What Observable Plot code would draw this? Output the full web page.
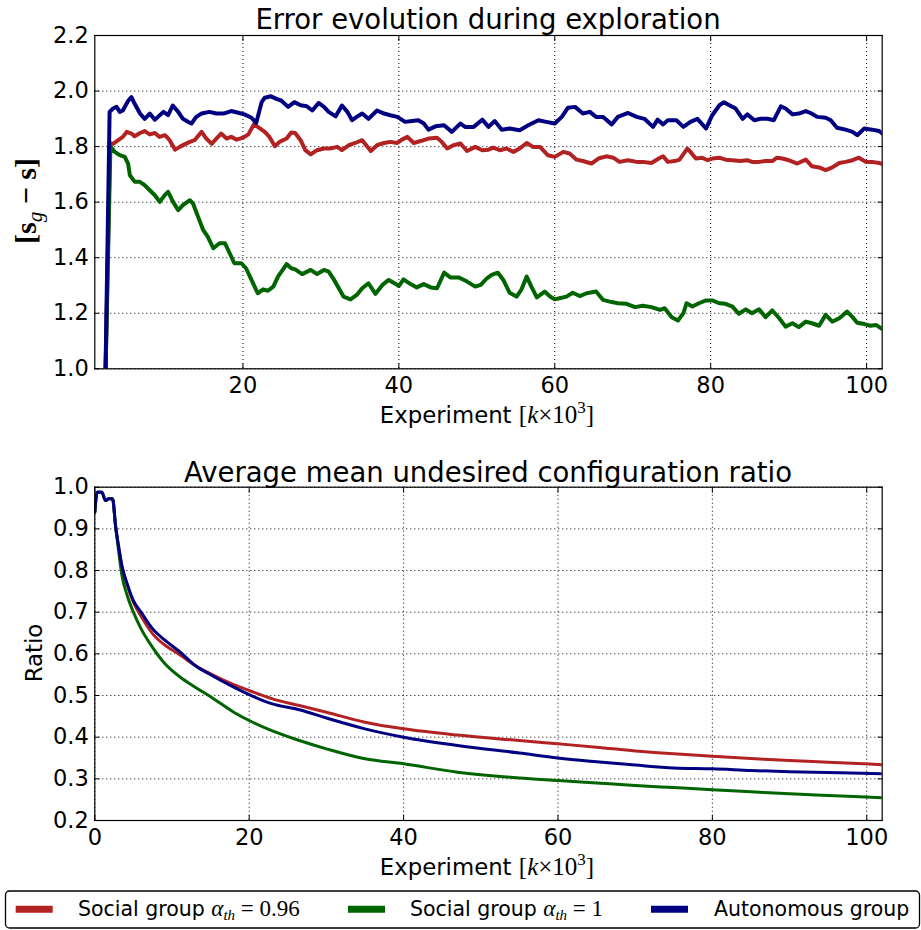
<!DOCTYPE html>
<html><head><meta charset="utf-8">
<script src="https://cdn.jsdelivr.net/npm/d3@7"></script>
<script src="https://cdn.jsdelivr.net/npm/@observablehq/plot@0.6"></script>
<style>
body{margin:0;background:#fff;}
#page{position:relative;width:921px;height:930px;overflow:hidden;font-family:"DejaVu Sans",sans-serif;}
#page svg{position:absolute;left:0;}
</style></head><body><div id="page"></div>
<script>
const seriesNames = ["Social group α_th=0.96", "Social group α_th=1", "Autonomous group"];
const seriesColors = ["#b22222", "#006400", "#000080"];

const errXTicks = [20, 40, 60, 80, 100];
const errYTicks = [1.0, 1.2, 1.4, 1.6, 1.8, 2.0, 2.2];
const ratioXTicks = [0, 20, 40, 60, 80, 100];
const ratioYTicks = [0.2, 0.3, 0.4, 0.5, 0.6, 0.7, 0.8, 0.9, 1.0];

// Top panel: error evolution (x in k×10^3)
const errSocial096 = [[2.35,0.95],[2.95,1.812],[3.35,1.81],[4.0,1.823],[4.6,1.835],[5.1,1.853],[5.7,1.847],[6.1,1.837],[6.8,1.849],[7.4,1.856],[8.05,1.844],[8.7,1.849],[9.3,1.835],[10.0,1.841],[10.6,1.823],[11.3,1.789],[11.9,1.799],[12.5,1.808],[13.2,1.817],[13.8,1.823],[14.7,1.853],[15.3,1.829],[16.0,1.81],[16.6,1.829],[17.2,1.847],[17.9,1.829],[18.5,1.835],[19.2,1.825],[20.0,1.832],[20.7,1.844],[21.4,1.88],[21.9,1.871],[22.8,1.853],[23.4,1.835],[24.1,1.801],[24.7,1.817],[25.6,1.829],[26.2,1.851],[26.7,1.849],[27.4,1.823],[28.0,1.787],[28.7,1.772],[29.5,1.787],[30.4,1.793],[31.2,1.793],[32.1,1.799],[32.7,1.787],[33.6,1.805],[34.4,1.813],[35.3,1.823],[36.4,1.784],[37.2,1.805],[38.1,1.813],[38.9,1.817],[39.8,1.813],[40.4,1.825],[41.1,1.835],[41.9,1.813],[42.8,1.82],[43.8,1.829],[44.9,1.832],[45.5,1.817],[46.2,1.793],[47.0,1.805],[47.9,1.811],[48.75,1.784],[49.8,1.799],[50.7,1.787],[51.5,1.789],[52.1,1.796],[52.95,1.787],[53.8,1.793],[54.7,1.781],[55.5,1.793],[56.4,1.813],[57.2,1.799],[58.1,1.799],[59.1,1.769],[60.0,1.763],[61.1,1.781],[61.9,1.775],[62.8,1.753],[63.6,1.748],[64.7,1.739],[65.6,1.757],[66.6,1.765],[67.5,1.76],[68.3,1.745],[69.4,1.751],[70.5,1.745],[71.3,1.745],[72.4,1.741],[73.5,1.76],[73.9,1.765],[74.5,1.745],[75.4,1.748],[76.0,1.753],[77.0,1.793],[77.4,1.781],[78.1,1.757],[78.9,1.76],[79.6,1.751],[80.2,1.757],[81.1,1.76],[81.9,1.753],[82.8,1.751],[83.8,1.748],[84.7,1.751],[85.3,1.745],[86.2,1.745],[87.0,1.748],[87.9,1.748],[88.5,1.76],[89.2,1.757],[90.0,1.751],[91.1,1.739],[92.2,1.753],[93.0,1.729],[93.9,1.725],[94.75,1.715],[95.6,1.725],[96.5,1.741],[97.3,1.745],[98.2,1.751],[99.0,1.76],[99.9,1.745],[100.7,1.745],[101.6,1.741],[102,1.737]];

const errSocial1 = [[2.35,0.95],[3.0,1.80],[3.56,1.781],[4.2,1.769],[4.85,1.763],[5.27,1.739],[5.5,1.697],[6.13,1.673],[6.77,1.673],[7.4,1.661],[8.05,1.643],[8.7,1.625],[9.33,1.601],[9.97,1.625],[10.4,1.637],[11.04,1.601],[11.7,1.571],[12.3,1.589],[13.2,1.607],[13.6,1.595],[14.25,1.547],[14.9,1.50],[15.5,1.475],[16.2,1.434],[17.0,1.452],[17.7,1.452],[18.3,1.416],[18.9,1.38],[19.8,1.38],[20.4,1.362],[21.1,1.32],[21.5,1.296],[21.9,1.272],[22.6,1.286],[23.2,1.281],[23.9,1.296],[24.5,1.332],[25.1,1.356],[25.6,1.377],[26.2,1.362],[26.7,1.358],[27.6,1.341],[28.7,1.356],[29.5,1.341],[30.4,1.356],[31.0,1.35],[31.7,1.32],[32.3,1.29],[32.9,1.26],[33.8,1.25],[34.6,1.266],[35.3,1.29],[36.1,1.308],[37.0,1.27],[37.9,1.302],[38.7,1.32],[39.6,1.305],[40.0,1.298],[40.6,1.322],[41.5,1.305],[42.3,1.293],[43.2,1.305],[44.1,1.293],[44.9,1.29],[45.8,1.346],[46.6,1.329],[47.7,1.329],[48.75,1.314],[49.8,1.296],[50.5,1.302],[51.3,1.326],[51.9,1.338],[52.7,1.346],[53.4,1.32],[54.2,1.274],[55.1,1.26],[55.7,1.284],[56.4,1.332],[57.0,1.296],[57.7,1.257],[58.7,1.278],[59.4,1.26],[60.0,1.25],[60.6,1.254],[61.5,1.26],[62.3,1.274],[63.2,1.262],[64.1,1.272],[65.3,1.278],[66.2,1.248],[67.05,1.242],[68.1,1.236],[69.2,1.234],[70.3,1.222],[71.3,1.227],[72.4,1.222],[73.5,1.212],[74.1,1.218],[75.0,1.186],[75.8,1.174],[76.5,1.20],[76.9,1.236],[77.65,1.224],[78.5,1.236],[79.4,1.246],[80.2,1.246],[81.1,1.236],[81.9,1.234],[82.8,1.224],[83.6,1.198],[84.5,1.214],[85.3,1.20],[86.2,1.214],[87.05,1.186],[87.9,1.21],[88.8,1.182],[89.6,1.152],[90.5,1.164],[91.3,1.15],[92.2,1.17],[93.0,1.164],[93.9,1.155],[94.75,1.194],[95.6,1.17],[96.5,1.182],[97.5,1.206],[98.2,1.186],[98.8,1.166],[99.7,1.161],[100.5,1.155],[101.2,1.158],[102,1.143]];

const errAutonomous = [[2.35,0.95],[2.9,1.925],[3.35,1.937],[3.8,1.943],[4.2,1.925],[4.6,1.93],[5.3,1.966],[5.7,1.978],[6.1,1.955],[6.8,1.919],[7.4,1.90],[8.05,1.919],[8.7,1.897],[9.1,1.907],[9.8,1.925],[10.4,1.913],[11.0,1.948],[11.7,1.925],[12.3,1.90],[13.0,1.889],[13.4,1.883],[14.0,1.907],[14.7,1.919],[15.7,1.925],[16.6,1.919],[17.5,1.919],[18.5,1.928],[19.4,1.922],[20.2,1.916],[21.1,1.904],[21.7,1.885],[22.4,1.96],[22.8,1.976],[23.6,1.981],[24.3,1.972],[24.9,1.966],[25.8,1.943],[26.6,1.96],[27.4,1.949],[28.2,1.945],[28.9,1.93],[29.7,1.957],[30.4,1.943],[31.0,1.925],[31.9,1.909],[32.7,1.948],[33.4,1.925],[34.0,1.895],[34.6,1.907],[35.3,1.919],[36.1,1.90],[37.2,1.93],[38.1,1.919],[38.9,1.913],[39.8,1.907],[40.8,1.889],[41.7,1.892],[42.5,1.895],[43.2,1.883],[43.8,1.861],[44.7,1.873],[45.8,1.877],[46.8,1.853],[47.9,1.883],[48.5,1.871],[49.6,1.871],[50.7,1.897],[51.5,1.871],[52.3,1.892],[53.2,1.861],[54.2,1.865],[55.5,1.859],[56.6,1.877],[57.9,1.895],[58.9,1.889],[60.0,1.883],[60.9,1.907],[61.7,1.94],[62.6,1.943],[63.6,1.919],[64.5,1.925],[65.3,1.907],[66.2,1.907],[67.3,1.88],[68.1,1.907],[69.4,1.921],[70.5,1.907],[71.5,1.90],[72.6,1.871],[73.2,1.897],[73.9,1.88],[74.5,1.895],[75.6,1.895],[76.5,1.871],[77.4,1.889],[78.3,1.90],[79.4,1.865],[80.2,1.913],[81.1,1.948],[81.7,1.96],[82.4,1.949],[83.2,1.937],[84.1,1.90],[84.7,1.916],[85.6,1.895],[86.4,1.90],[87.3,1.90],[88.1,1.895],[89.0,1.945],[89.6,1.937],[90.5,1.916],[91.3,1.919],[92.2,1.928],[92.8,1.921],[93.7,1.907],[94.75,1.904],[95.4,1.895],[96.2,1.868],[97.3,1.861],[98.2,1.853],[98.8,1.841],[99.7,1.865],[100.7,1.861],[101.6,1.856],[102,1.847]];

// Bottom panel: average mean undesired configuration ratio
const ratioX = [0,0.3,0.9,1.4,1.8,2.3,2.7,3.1,3.5,4.2,5,6,7.5,9,11,13,15,18,20,23,26.5,30,35,40,47,55,60,65,70,75,80,85,90,95,102];
const ratioSocial096 = [0.94,0.988,0.988,0.968,0.972,0.972,0.905,0.856,0.812,0.765,0.724,0.69,0.648,0.622,0.598,0.572,0.552,0.526,0.512,0.492,0.476,0.46,0.436,0.42,0.405,0.392,0.384,0.376,0.367,0.36,0.354,0.349,0.344,0.34,0.334];
const ratioSocial1 = [0.94,0.988,0.988,0.968,0.972,0.972,0.905,0.845,0.79,0.74,0.70,0.66,0.615,0.578,0.545,0.52,0.497,0.46,0.44,0.415,0.392,0.372,0.348,0.336,0.316,0.302,0.296,0.29,0.284,0.279,0.274,0.269,0.264,0.26,0.2545];
const ratioAutonomous = [0.94,0.988,0.988,0.968,0.972,0.972,0.905,0.856,0.812,0.768,0.728,0.70,0.66,0.634,0.605,0.572,0.55,0.52,0.502,0.48,0.466,0.446,0.42,0.40,0.38,0.362,0.35,0.341,0.333,0.326,0.324,0.32,0.317,0.315,0.312];

const FONT = '"DejaVu Sans", sans-serif';
const page = document.getElementById("page");

const errData = [errSocial096, errSocial1, errAutonomous]
  .flatMap((a, i) => a.map(([x, y]) => ({x, y, s: seriesNames[i]})));
const ratioData = [ratioSocial096, ratioSocial1, ratioAutonomous]
  .flatMap((a, i) => a.map((y, j) => ({x: ratioX[j], y, s: seriesNames[i]})));

const gridStyle = {stroke: "black", strokeOpacity: 1, strokeWidth: 1, strokeDasharray: "1,3"};
const baseStyle = {fontFamily: FONT, fontSize: "22.5px", color: "black", background: "transparent", overflow: "visible"};

// small inward tick marks on all four sides (matplotlib classic style)
const innerTicks = (xt, yt) => [
  Plot.axisX(xt, {anchor: "bottom", tickSize: -5, fill: "none", label: null, stroke: "black"}),
  Plot.axisX(xt, {anchor: "top", tickSize: -5, fill: "none", label: null, stroke: "black"}),
  Plot.axisY(yt, {anchor: "left", tickSize: -5, fill: "none", label: null, stroke: "black"}),
  Plot.axisY(yt, {anchor: "right", tickSize: -5, fill: "none", label: null, stroke: "black"})
];

const topPlot = Plot.plot({
  width: 921, height: 400,
  marginTop: 35, marginBottom: 31.7, marginLeft: 94.3, marginRight: 39.3,
  style: baseStyle,
  x: {domain: [1, 102]},
  y: {domain: [1.0, 2.2]},
  color: {domain: seriesNames, range: seriesColors},
  marks: [
    Plot.gridX(errXTicks, gridStyle),
    Plot.gridY(errYTicks, gridStyle),
    Plot.line(errData, {x: "x", y: "y", z: "s", stroke: "s", strokeWidth: 4, clip: true}),
    ...innerTicks(errXTicks, errYTicks),
    Plot.frame({stroke: "black", strokeWidth: 1.2}),
    Plot.axisX(errXTicks, {tickSize: 0, tickPadding: 8.5, label: null, tickFormat: d => String(d)}),
    Plot.axisY(errYTicks, {tickSize: 0, tickPadding: 6, label: null, tickFormat: d => d.toFixed(1)})
  ]
});
topPlot.style.top = "0px";
page.appendChild(topPlot);

const botPlot = Plot.plot({
  width: 921, height: 400,
  marginTop: 36.7, marginBottom: 30, marginLeft: 94.3, marginRight: 39.3,
  style: baseStyle,
  x: {domain: [0, 102]},
  y: {domain: [0.2, 1.0]},
  color: {domain: seriesNames, range: seriesColors},
  marks: [
    Plot.gridX(ratioXTicks, gridStyle),
    Plot.gridY(ratioYTicks, gridStyle),
    Plot.line(ratioData, {x: "x", y: "y", z: "s", stroke: "s", strokeWidth: 3, clip: true, curve: "monotone-x"}),
    ...innerTicks(ratioXTicks, ratioYTicks),
    Plot.frame({stroke: "black", strokeWidth: 1.2}),
    Plot.axisX(ratioXTicks, {tickSize: 0, tickPadding: 8.5, label: null, tickFormat: d => String(d)}),
    Plot.axisY(ratioYTicks, {tickSize: 0, tickPadding: 6, label: null, tickFormat: d => d.toFixed(1)})
  ]
});
botPlot.style.top = "450px";
page.appendChild(botPlot);

// Text overlay: titles, axis labels, legend
const M = 'font-family="Liberation Serif, DejaVu Serif, serif"';
const expLabel = (y) => `<text x="487" y="${y}" text-anchor="middle" font-size="22.8">Experiment <tspan ${M} font-size="25">[</tspan><tspan ${M} font-style="italic" font-size="25">k</tspan><tspan ${M} font-size="25">×10</tspan><tspan ${M} font-size="17" dy="-10">3</tspan><tspan ${M} font-size="25" dy="10">]</tspan></text>`;
const legItem = (x0, color, x1, label) => `<line x1="${x0}" x2="${x0 + 37}" y1="909.3" y2="909.3" stroke="${color}" stroke-width="7"/><text x="${x1}" y="916" font-size="20.5">${label}</text>`;
const alphaLbl = (v) => `Social group <tspan ${M} font-style="italic" font-size="23">α</tspan><tspan ${M} font-style="italic" font-size="15" dy="4">th</tspan><tspan ${M} font-size="23" dy="-4"> = ${v}</tspan>`;

const overlay = `<svg width="921" height="930" style="top:0;pointer-events:none" font-family='"DejaVu Sans", sans-serif' fill="black">
<text x="488" y="29" text-anchor="middle" font-size="27.5">Error evolution during exploration</text>
${expLabel(422.7)}
<text transform="translate(36,201) rotate(-90)" text-anchor="middle" ${M} font-weight="bold" font-size="30">[s<tspan font-style="italic" font-weight="normal" font-size="21" dy="6">g</tspan><tspan dy="-6"> − s]</tspan></text>
<text x="488" y="481.7" text-anchor="middle" font-size="27.5">Average mean undesired configuration ratio</text>
${expLabel(875)}
<text transform="translate(42,653) rotate(-90)" text-anchor="middle" font-size="22.8">Ratio</text>
<rect x="5.5" y="891" width="914" height="37" rx="4" fill="white" stroke="black" stroke-width="1.3"/>
${legItem(15.7, seriesColors[0], 78, alphaLbl("0.96"))}
${legItem(348, seriesColors[1], 410, alphaLbl("1"))}
${legItem(651, seriesColors[2], 714, "Autonomous group")}
</svg>`;
page.insertAdjacentHTML("beforeend", overlay);
</script>
</body></html>
